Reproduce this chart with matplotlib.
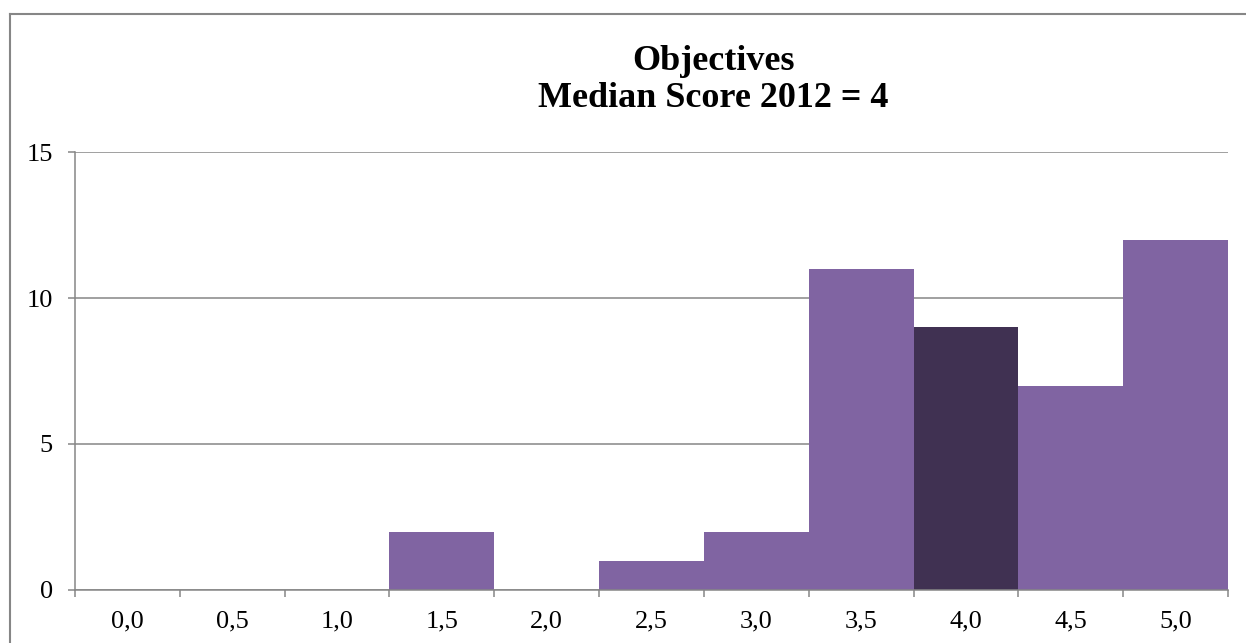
import matplotlib.pyplot as plt
from matplotlib.lines import Line2D

# score bins and how many responses fell in each
categories = ['0,0', '0,5', '1,0', '1,5', '2,0', '2,5', '3,0', '3,5', '4,0', '4,5', '5,0']
counts = [0, 0, 0, 2, 0, 1, 2, 11, 9, 7, 12]
median_label = '4,0'

title_lines = ['Objectives', 'Median Score 2012 = 4']
yticks = [0, 5, 10, 15]

purple = '#8064A2'
dark_purple = '#403152'
grey = '#868686'

plt.rcParams['font.family'] = ['Liberation Serif', 'DejaVu Serif']

fig = plt.figure(figsize=(12.46, 6.43), dpi=100)
ax = fig.add_axes([75 / 1246, 1 - 590 / 643, (1228 - 75) / 1246, (590 - 152) / 643])

colors = [dark_purple if c == median_label else purple for c in categories]
x = list(range(len(categories)))
ax.bar(x, counts, width=1.0, color=colors, edgecolor='none', zorder=3)

ax.set_xlim(-0.5, len(categories) - 0.5)
ax.set_ylim(0, 15)
ax.set_yticks(yticks)
ax.set_yticklabels([str(t) for t in yticks])
ax.yaxis.grid(True, color=grey, linewidth=1.1, zorder=0)

# labels sit at the bin centres, tick marks at the bin edges
ax.set_xticks(x)
ax.set_xticklabels(categories)
ax.set_xticks([i - 0.5 for i in range(len(categories) + 1)], minor=True)
ax.tick_params(axis='x', which='major', length=0, pad=15, labelsize=19)
ax.tick_params(axis='x', which='minor', length=5, width=1.1, color=grey, direction='out')
ax.tick_params(axis='y', length=5, width=1.1, color=grey, pad=11, labelsize=19)

for side in ['top', 'right']:
    ax.spines[side].set_visible(False)
for side in ['left', 'bottom']:
    ax.spines[side].set_color(grey)
    ax.spines[side].set_linewidth(1.1)
    ax.spines[side].set_zorder(4)

fig.text(713 / 1246, 1 - 70 / 643, title_lines[0], ha='center', va='baseline',
         fontsize=26, fontweight='bold')
fig.text(713 / 1246, 1 - 107 / 643, title_lines[1], ha='center', va='baseline',
         fontsize=26, fontweight='bold')

# chart frame around the whole area
frame_x = 9.5 / 1246
frame_y = 1 - 13.5 / 643
fig.add_artist(Line2D([frame_x, 1.01], [frame_y, frame_y], color=grey, linewidth=1.5,
                      transform=fig.transFigure))
fig.add_artist(Line2D([frame_x, frame_x], [-0.01, frame_y], color=grey, linewidth=1.5,
                      transform=fig.transFigure))

fig.savefig('out.png', dpi=100)
